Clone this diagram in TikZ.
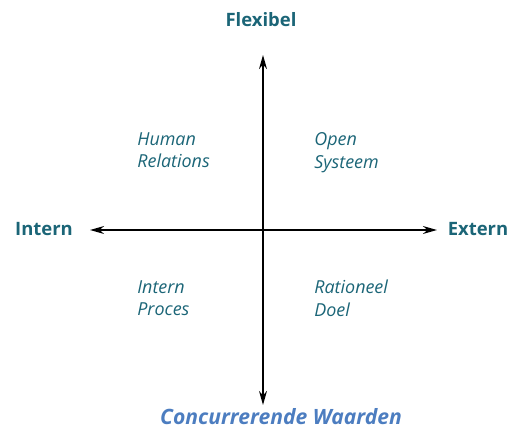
\documentclass[tikz,border=0pt]{standalone}
\usepackage{fontspec}
\setmainfont{Open Sans}
\usepackage{tikz}
\usetikzlibrary{arrows.meta}
\definecolor{teal}{HTML}{1B6577}
\definecolor{titleblue}{HTML}{4C7DC0}
\tikzset{axis/.style={line width=0.9pt, <->, >={Stealth[length=8pt,width=4.5pt]}}}
\tikzset{pole/.style={font=\bfseries\fontsize{10.5}{12}\selectfont, text=teal}}
\tikzset{quadrant/.style={font=\itshape\fontsize{10.2}{13}\selectfont, text=teal, align=left, anchor=north west, inner sep=0pt}}

\begin{document}
\begin{tikzpicture}[x=0.02cm, y=-0.02cm]
	\useasboundingbox (0,0) rectangle (517,428);

	% End points of the two axes
	\coordinate (west) at (90,230);		\coordinate (east) at (437,230);
	\coordinate (north) at (263,55);	\coordinate (south) at (263,405);

	\node[pole] (flexibel) at (261,20) {Flexibel};
	\node[pole] (intern) at (44,229) {Intern};
	\node[pole] (extern) at (478,229) {Extern};

	\node[quadrant] (hr) at (137,132) {Human\\Relations};
	\node[quadrant] (os) at (314,132) {Open\\Systeem};
	\node[quadrant] (ip) at (137,280) {Intern\\Proces};
	\node[quadrant] (rd) at (314,280) {Rationeel\\Doel};

	\draw[axis] (west) -- (east);
	\draw[axis] (south) -- (north);

	\node[font=\bfseries\itshape\fontsize{12}{14}\selectfont, text=titleblue] (title) at (281,417) {Concurrerende Waarden};

\end{tikzpicture}
\end{document}
